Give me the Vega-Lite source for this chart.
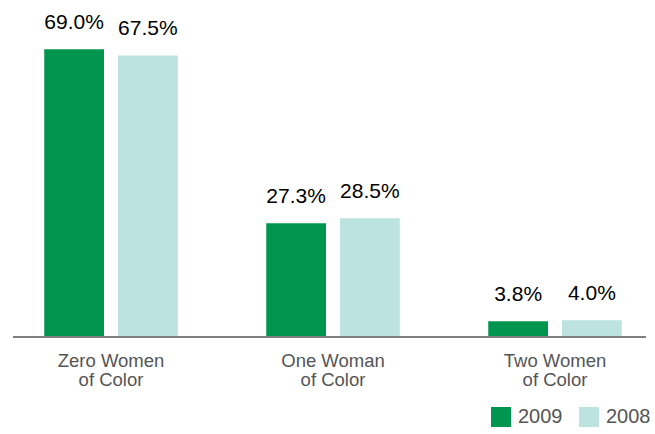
{
  "$schema": "https://vega.github.io/schema/vega-lite/v6.json",
  "width": 633,
  "height": 337,
  "autosize": {"type": "none"},
  "padding": {"left": 13, "top": 0, "right": 9, "bottom": 97},
  "config": {
    "view": {"stroke": null},
    "font": "Liberation Sans"
  },
  "data": {
    "values": [
      {"group": "Zero Women of Color", "year": "2009", "value": 69.0, "label": "69.0%"},
      {"group": "Zero Women of Color", "year": "2008", "value": 67.5, "label": "67.5%"},
      {"group": "One Woman of Color", "year": "2009", "value": 27.3, "label": "27.3%"},
      {"group": "One Woman of Color", "year": "2008", "value": 28.5, "label": "28.5%"},
      {"group": "Two Women of Color", "year": "2009", "value": 3.8, "label": "3.8%"},
      {"group": "Two Women of Color", "year": "2008", "value": 4.0, "label": "4.0%"}
    ]
  },
  "encoding": {
    "x": {
      "field": "group",
      "type": "nominal",
      "sort": ["Zero Women of Color", "One Woman of Color", "Two Women of Color"],
      "scale": {"range": [-13, 653], "paddingInner": 0, "paddingOuter": 0},
      "axis": {
        "title": null,
        "domain": false,
        "ticks": false,
        "labelAngle": 0,
        "labelFontSize": 18.5,
        "labelColor": "#555555",
        "labelLineHeight": 19,
        "labelPadding": 14,
        "labelExpr": "split(replace(datum.label, ' of', '|of'), '|')"
      }
    },
    "xOffset": {
      "field": "year",
      "type": "nominal",
      "sort": ["2009", "2008"],
      "scale": {"paddingInner": 0.19, "paddingOuter": 0.6}
    },
    "y": {
      "field": "value",
      "type": "quantitative",
      "scale": {"domain": [0, 80.8]},
      "axis": null
    }
  },
  "layer": [
    {
      "mark": {"type": "bar"},
      "encoding": {
        "color": {
          "field": "year",
          "type": "nominal",
          "scale": {"domain": ["2009", "2008"], "range": ["#00964f", "#bde3e0"]},
          "legend": {
            "title": null,
            "orient": "none",
            "legendX": 478,
            "legendY": 407,
            "direction": "horizontal",
            "symbolType": "square",
            "symbolSize": 400,
            "symbolStrokeWidth": 0,
            "symbolOpacity": 1,
            "labelFontSize": 20,
            "labelColor": "#555555",
            "labelOffset": 7,
            "columnPadding": 16,
            "padding": 0
          }
        }
      }
    },
    {
      "mark": {"type": "text", "baseline": "alphabetic", "dy": -20, "fontSize": 21, "color": "#000000"},
      "encoding": {"text": {"field": "label"}}
    },
    {
      "mark": {"type": "rule", "color": "#808080", "strokeWidth": 1.5},
      "encoding": {"y": {"datum": 0}, "x": null, "xOffset": null}
    }
  ]
}
